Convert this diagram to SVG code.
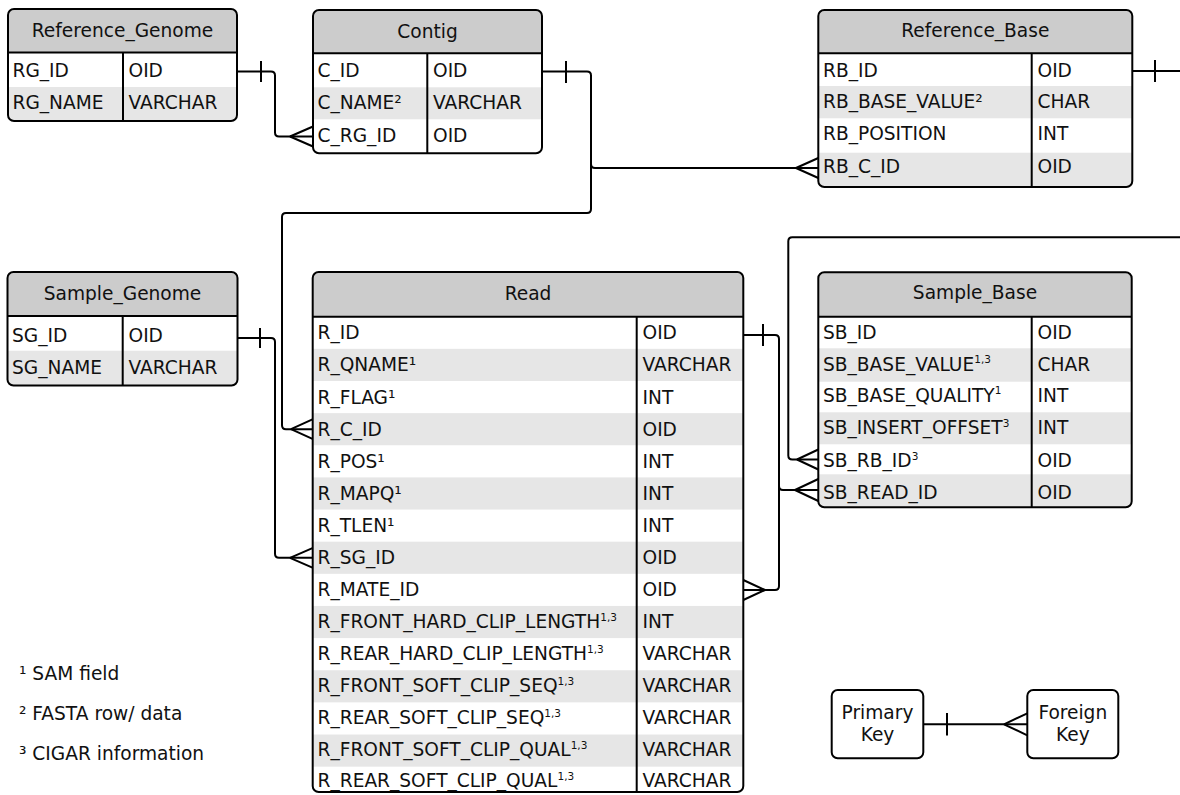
<svg xmlns="http://www.w3.org/2000/svg" width="1180" height="795" viewBox="0 0 1180 795">
<style>
.bg{fill:#fff}
.hdr{fill:#ccc}
.alt{fill:#e6e6e6}
.ln{fill:none;stroke:#000;stroke-width:2}
.frame{fill:none;stroke:#000;stroke-width:2}
.t{font-family:'DejaVu Sans',Verdana,sans-serif;font-size:18.6px;fill:#111}
.c{text-anchor:middle}
.s{font-size:10.5px}
#connectors path{fill:none;stroke:#000;stroke-width:2;stroke-linejoin:round}
</style>
<defs>
<clipPath id="cRG"><rect x="8" y="9" width="229" height="112" rx="6"/></clipPath>
<clipPath id="cC"><rect x="313" y="10" width="229" height="143.3" rx="6"/></clipPath>
<clipPath id="cRB"><rect x="818.3" y="10" width="314" height="177" rx="6"/></clipPath>
<clipPath id="cSG"><rect x="7.5" y="272" width="230" height="113.5" rx="6"/></clipPath>
<clipPath id="cR"><rect x="312.7" y="272" width="430.6" height="520" rx="6"/></clipPath>
<clipPath id="cSB"><rect x="818.3" y="272.3" width="313.4" height="235" rx="6"/></clipPath>
</defs>
<rect width="1180" height="795" fill="#fff"/>

<g id="connectors">
<!-- Reference_Genome -> Contig -->
<path d="M237,71.5 H271 Q275,71.5 275,75.5 V132.5 Q275,136.5 279,136.5 H313"/>
<path d="M261,61 V82"/>
<path d="M290,136.5 L313,126.5 M290,136.5 L313,146.5"/>
<!-- Contig -> Reference_Base / Read -->
<path d="M542,71.5 H587 Q591,71.5 591,75.5 V209 Q591,213 587,213 H286 Q282,213 282,217 V425.2 Q282,429.2 286,429.2 H313"/>
<path d="M591,164 Q591,168 595,168 H818.3"/>
<path d="M566,61 V83"/>
<path d="M796,168 L818.3,158 M796,168 L818.3,178"/>
<path d="M291,429.2 L313,419.2 M291,429.2 L313,439.2"/>
<!-- Sample_Genome -> Read -->
<path d="M237.5,338 H271 Q275,338 275,342 V553.8 Q275,557.8 279,557.8 H313"/>
<path d="M260,328 V348"/>
<path d="M290,557.8 L313,547.8 M290,557.8 L313,567.8"/>
<!-- Read -> Read (mate) / Sample_Base -->
<path d="M743.3,335 H775 Q779,335 779,339 V586 Q779,590 775,590 H743.3"/>
<path d="M779,486 Q779,490 783,490 H818.3"/>
<path d="M763,324 V346"/>
<path d="M765,590 L743.3,580 M765,590 L743.3,600"/>
<path d="M795,490 L818.3,479 M795,490 L818.3,501"/>
<!-- Reference_Base -> Sample_Base -->
<path d="M1132.3,71 H1200 V237.3 H792.3 Q788.3,237.3 788.3,241.3 V455.5 Q788.3,459.5 792.3,459.5 H818.3"/>
<path d="M1155,60 V82"/>
<path d="M797,459.5 L818.3,449.5 M797,459.5 L818.3,469.5"/>
<!-- legend -->
<path d="M923.3,724.3 H1027.3"/>
<path d="M947,713 V735.5"/>
<path d="M1004,724.3 L1027.3,713.3 M1004,724.3 L1027.3,735.3"/>
</g>

<g id="reference_genome">
<g clip-path="url(#cRG)">
<rect class="bg" x="8" y="9" width="229" height="112"/>
<rect class="hdr" x="8" y="9" width="229" height="43.5"/>
<rect class="alt" x="8" y="87" width="229" height="34"/>
</g>
<path class="ln" d="M8,52.5 H237 M123,52.5 V121"/>
<rect class="frame" x="8" y="9" width="229" height="112" rx="6"/>
<text class="t c" x="122.5" y="37">Reference_Genome</text>
<text class="t" x="12.5" y="76.7">RG_ID</text><text class="t" x="128.5" y="76.7">OID</text>
<text class="t" x="12.5" y="108.5">RG_NAME</text><text class="t" x="128.5" y="108.5">VARCHAR</text>
</g>

<g id="contig">
<g clip-path="url(#cC)">
<rect class="bg" x="313" y="10" width="229" height="143.3"/>
<rect class="hdr" x="313" y="10" width="229" height="43.3"/>
<rect class="alt" x="313" y="87.3" width="229" height="32"/>
</g>
<path class="ln" d="M313,53.3 H542 M427.3,53.3 V153.3"/>
<rect class="frame" x="313" y="10" width="229" height="143.3" rx="6"/>
<text class="t c" x="427.5" y="37.5">Contig</text>
<text class="t" x="317.5" y="76.7">C_ID</text><text class="t" x="433" y="76.7">OID</text>
<text class="t" x="317.5" y="108.5">C_NAME²</text><text class="t" x="433" y="108.5">VARCHAR</text>
<text class="t" x="317.5" y="141.5">C_RG_ID</text><text class="t" x="433" y="141.5">OID</text>
</g>

<g id="reference_base">
<g clip-path="url(#cRB)">
<rect class="bg" x="818.3" y="10" width="314" height="177"/>
<rect class="hdr" x="818.3" y="10" width="314" height="43.3"/>
<rect class="alt" x="818.3" y="86" width="314" height="32.3"/>
<rect class="alt" x="818.3" y="152.7" width="314" height="34.3"/>
</g>
<path class="ln" d="M818.3,53.3 H1132.3 M1031.7,53.3 V187"/>
<rect class="frame" x="818.3" y="10" width="314" height="177" rx="6"/>
<text class="t c" x="975.3" y="37">Reference_Base</text>
<text class="t" x="823" y="76.7">RB_ID</text><text class="t" x="1037.5" y="76.7">OID</text>
<text class="t" x="823" y="107.7">RB_BASE_VALUE²</text><text class="t" x="1037.5" y="107.7">CHAR</text>
<text class="t" x="823" y="140">RB_POSITION</text><text class="t" x="1037.5" y="140">INT</text>
<text class="t" x="823" y="172.7">RB_C_ID</text><text class="t" x="1037.5" y="172.7">OID</text>
</g>

<g id="sample_genome">
<g clip-path="url(#cSG)">
<rect class="bg" x="7.5" y="272" width="230" height="113.5"/>
<rect class="hdr" x="7.5" y="272" width="230" height="44"/>
<rect class="alt" x="7.5" y="350.7" width="230" height="34.8"/>
</g>
<path class="ln" d="M7.5,316 H237.5 M122.7,316 V385.5"/>
<rect class="frame" x="7.5" y="272" width="230" height="113.5" rx="6"/>
<text class="t c" x="122.5" y="300">Sample_Genome</text>
<text class="t" x="12" y="341.7">SG_ID</text><text class="t" x="128.5" y="341.7">OID</text>
<text class="t" x="12" y="374">SG_NAME</text><text class="t" x="128.5" y="374">VARCHAR</text>
</g>

<g id="read">
<g clip-path="url(#cR)">
<rect class="bg" x="312.7" y="272" width="430.6" height="520"/>
<rect class="hdr" x="312.7" y="272" width="430.6" height="44.7"/>
<rect class="alt" x="312.7" y="348.84" width="430.6" height="32.14"/>
<rect class="alt" x="312.7" y="413.12" width="430.6" height="32.14"/>
<rect class="alt" x="312.7" y="477.4" width="430.6" height="32.14"/>
<rect class="alt" x="312.7" y="541.68" width="430.6" height="32.14"/>
<rect class="alt" x="312.7" y="605.96" width="430.6" height="32.14"/>
<rect class="alt" x="312.7" y="670.24" width="430.6" height="32.14"/>
<rect class="alt" x="312.7" y="734.52" width="430.6" height="32.14"/>
</g>
<path class="ln" d="M312.7,316.7 H743.3 M636.7,316.7 V792"/>
<rect class="frame" x="312.7" y="272" width="430.6" height="520" rx="6"/>
<text class="t c" x="528" y="299.5">Read</text>
<text class="t" x="317.5" y="339.2">R_ID</text><text class="t" x="642.5" y="339.2">OID</text>
<text class="t" x="317.5" y="371.3">R_QNAME¹</text><text class="t" x="642.5" y="371.3">VARCHAR</text>
<text class="t" x="317.5" y="403.5">R_FLAG¹</text><text class="t" x="642.5" y="403.5">INT</text>
<text class="t" x="317.5" y="435.6">R_C_ID</text><text class="t" x="642.5" y="435.6">OID</text>
<text class="t" x="317.5" y="467.8">R_POS¹</text><text class="t" x="642.5" y="467.8">INT</text>
<text class="t" x="317.5" y="499.9">R_MAPQ¹</text><text class="t" x="642.5" y="499.9">INT</text>
<text class="t" x="317.5" y="532">R_TLEN¹</text><text class="t" x="642.5" y="532">INT</text>
<text class="t" x="317.5" y="564.2">R_SG_ID</text><text class="t" x="642.5" y="564.2">OID</text>
<text class="t" x="317.5" y="596.3">R_MATE_ID</text><text class="t" x="642.5" y="596.3">OID</text>
<text class="t" x="317.5" y="628.4">R_FRONT_HARD_CLIP_LENGTH<tspan class="s" dy="-7.5">1,3</tspan></text><text class="t" x="642.5" y="628.4">INT</text>
<text class="t" x="317.5" y="660.3">R_REAR_HARD_CLIP_LENGTH<tspan class="s" dy="-7.5">1,3</tspan></text><text class="t" x="642.5" y="660.3">VARCHAR</text>
<text class="t" x="317.5" y="692.4">R_FRONT_SOFT_CLIP_SEQ<tspan class="s" dy="-7.5">1,3</tspan></text><text class="t" x="642.5" y="692.4">VARCHAR</text>
<text class="t" x="317.5" y="724.4">R_REAR_SOFT_CLIP_SEQ<tspan class="s" dy="-7.5">1,3</tspan></text><text class="t" x="642.5" y="724.4">VARCHAR</text>
<text class="t" x="317.5" y="756.2">R_FRONT_SOFT_CLIP_QUAL<tspan class="s" dy="-7.5">1,3</tspan></text><text class="t" x="642.5" y="756.2">VARCHAR</text>
<text class="t" x="317.5" y="787">R_REAR_SOFT_CLIP_QUAL<tspan class="s" dy="-7.5">1,3</tspan></text><text class="t" x="642.5" y="787">VARCHAR</text>
</g>

<g id="sample_base">
<g clip-path="url(#cSB)">
<rect class="bg" x="818.3" y="272.3" width="313.4" height="235"/>
<rect class="hdr" x="818.3" y="272.3" width="313.4" height="44.4"/>
<rect class="alt" x="818.3" y="348.3" width="313.4" height="33.4"/>
<rect class="alt" x="818.3" y="412.3" width="313.4" height="32"/>
<rect class="alt" x="818.3" y="474.3" width="313.4" height="33"/>
</g>
<path class="ln" d="M818.3,316.7 H1131.7 M1031.7,316.7 V507.3"/>
<rect class="frame" x="818.3" y="272.3" width="313.4" height="235" rx="6"/>
<text class="t c" x="975" y="299">Sample_Base</text>
<text class="t" x="823" y="339.3">SB_ID</text><text class="t" x="1037.5" y="339.3">OID</text>
<text class="t" x="823" y="370.7">SB_BASE_VALUE<tspan class="s" dy="-7.5">1,3</tspan></text><text class="t" x="1037.5" y="370.7">CHAR</text>
<text class="t" x="823" y="401.7">SB_BASE_QUALITY<tspan class="s" dy="-7.5">1</tspan></text><text class="t" x="1037.5" y="401.7">INT</text>
<text class="t" x="823" y="434">SB_INSERT_OFFSET<tspan class="s" dy="-7.5">3</tspan></text><text class="t" x="1037.5" y="434">INT</text>
<text class="t" x="823" y="467.3">SB_RB_ID<tspan class="s" dy="-7.5">3</tspan></text><text class="t" x="1037.5" y="467.3">OID</text>
<text class="t" x="823" y="499.3">SB_READ_ID</text><text class="t" x="1037.5" y="499.3">OID</text>
</g>

<g id="footnotes">
<text class="t" x="19" y="680">¹ SAM field</text>
<text class="t" x="19" y="719.5">² FASTA row/ data</text>
<text class="t" x="19" y="759.5">³ CIGAR information</text>
</g>

<g id="legend_primary_key">
<rect class="frame" x="831.7" y="690" width="91.6" height="68.3" rx="6" fill="#fff"/>
<text class="t c" x="877.5" y="718.5">Primary</text>
<text class="t c" x="877.5" y="741">Key</text>
</g>
<g id="legend_foreign_key">
<rect class="frame" x="1027.3" y="690" width="91" height="68.3" rx="6" fill="#fff"/>
<text class="t c" x="1072.8" y="718.5">Foreign</text>
<text class="t c" x="1072.8" y="741">Key</text>
</g>
</svg>
